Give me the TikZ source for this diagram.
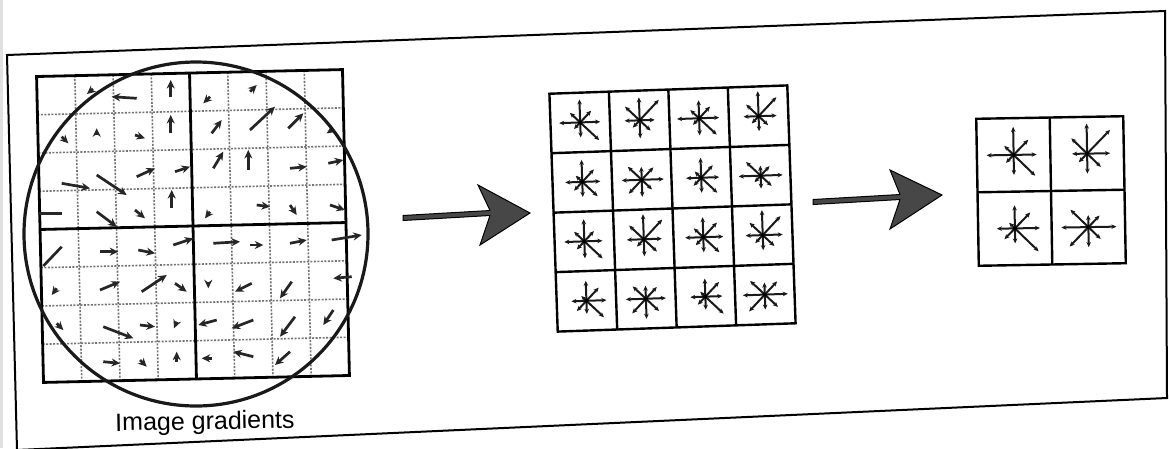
\documentclass[tikz,border=0pt]{standalone}
\usepackage{fontspec}
\setmainfont{Liberation Sans}
\usetikzlibrary{arrows.meta}
\tikzset{
  thingrid/.style={draw=black!55, line width=1.6pt, dash pattern=on 2pt off 1.5pt},
  thickgrid/.style={draw=black, line width=2.8pt},
  garrow/.style={draw=black!85, line width=2.7pt, -{Stealth[length=8.5pt,width=8pt]}},
  gline/.style={draw=black!85, line width=2.7pt},
  sarrow/.style={draw=black!90, line width=2pt, -{Stealth[length=5pt,width=4.5pt]}},
  cellgrid/.style={draw=black, line width=2.4pt},
  bigarrow/.style={fill=black!72, draw=black, line width=1pt, line join=miter},
  pageframe/.style={draw=black, line width=2pt},
  ringline/.style={draw=black!90, line width=3.2pt},
}
\newcommand\hogstar[3]{%
  \foreach \L [count=\i from 0] in {#3} {\draw[sarrow] (#1,#2) -- ++({-45*\i}:\L);}
  \fill[black] (#1,#2) circle (2);
}
\begin{document}
\begin{tikzpicture}[x=1pt,y=-1pt]
\useasboundingbox (0,0) rectangle (1169,448);
\fill[white] (0,0) rectangle (1169,448);
\fill[black!12] (0,0) rectangle (3,448);

% page frame
\draw[pageframe] (7,55) -- (1165,11) -- (1167,398) -- (17,450) -- cycle;

% ---------- left grid (image gradients) ----------
\begin{scope}[rotate around={1.3:(193,226)}]
  \foreach \k in {1,2,3,5,6,7} {
    \draw[thingrid] ({40+38.25*\k},73) -- ({40+38.25*\k},379);
    \draw[thingrid] (40,{73+38.25*\k}) -- (346,{73+38.25*\k});
  }
  \draw[thickgrid] (193,73) -- (193,379);
  \draw[thickgrid] (40,226) -- (346,226);
  \draw[thickgrid] (40,73) rectangle (346,379);
\end{scope}

% gradient arrows
\foreach \a/\b/\c/\d in {
  93/89/87/94, 136.7/98.3/111.7/96.7, 170.7/96.7/170.7/80, 210/96.7/203.3/103.3, 250/91.7/256.7/85,
  61.7/136.7/68.3/143.3, 96.7/135/96.7/128.3, 135/135/145/138.3, 170.7/133.3/170.7/115,
  211.7/133.3/221.7/120, 250/130/275/106.7, 288.3/128.3/303.3/113.3, 331.7/130/326.7/133.3,
  61.7/183.3/90/188.3, 96.7/175/126.7/195, 136.7/176.7/155/168.3, 175/171.7/190/166.7,
  213.3/168.3/223.3/151.7, 248.3/170/248.3/150, 290/168.3/306.7/166.7, 328.3/163.3/343.3/160,
  96.7/211.7/116.7/226.7, 135/210/145/218.3, 171.7/208.3/171.7/190, 210/211.7/205/218.3,
  256.7/205/270/206.7, 290/205/296.7/215, 330/205/345/210,
  100/251.7/118.3/251.7, 138.3/250/155/253.3, 173.3/245/193.3/238.3, 213.3/243.3/240/241.7,
  250/245/263.3/245, 290/243.3/306.7/240, 331.7/240/361.7/235,
  56.7/288.3/51.7/295, 100/290/120/281.7, 141.7/291.7/166.7/275, 175/283.3/186.7/291.7,
  208.3/281.7/208.3/288.3, 251.7/283.3/235/291.7, 291.7/281.7/280/298.3, 351.7/276.7/333.3/278.3,
  56.7/323.3/63.3/330, 103.3/326.7/133.3/338.3, 140/325/155/326.7, 176.7/321.7/174/328.3,
  216.7/320/198.3/325, 253.3/320/231.7/328.3, 295/316.7/280/336.7, 333.3/310/323.3/325,
  103.3/361.7/120/363.3, 140/360/146.7/366.7, 176.7/361.7/176.7/351.7, 211.7/358.3/201.7/358.3,
  253.3/356.7/233.3/351.7, 290/351.7/275/365}
  {\draw[garrow] (\a,\b) -- (\c,\d);}
\draw[gline] (38.3,213.3) -- (61.7,213.3);
\draw[gline] (61.7,246.7) -- (43.3,266);

% circle
\draw[ringline] (196,234) circle (172);

\node[font=\fontsize{25}{30}\selectfont, rotate=1, inner sep=0pt] (lbl) at (205,423) {Image gradients};

% ---------- big arrow 1 ----------
\coordinate (a1s) at (403,218);
\coordinate (a1t) at (530,213);
\draw[bigarrow] (403,215.5) -- (490,210.5) -- (478,185) -- (a1t) -- (480,245) -- (490,215.5) -- (403,220.5) -- cycle;

% ---------- middle grid 4x4 ----------
\begin{scope}[rotate around={2:(672.5,208.5)}]
  \foreach \k in {1,2,3} {
    \draw[cellgrid] ({553.5+59.5*\k},89.5) -- ({553.5+59.5*\k},327.5);
    \draw[cellgrid] (553.5,{89.5+59.5*\k}) -- (791.5,{89.5+59.5*\k});
  }
  \draw[cellgrid] (553.5,89.5) rectangle (791.5,327.5);
  \hogstar{583.25}{119.25}{20,16,23,14,21,9,15,26}
  \hogstar{642.75}{119.25}{15,28,23,20,15,10,18,15}
  \hogstar{702.25}{119.25}{20,16,18,12,22,9,17,24}
  \hogstar{761.75}{119.25}{18,26,25,17,15,10,15,13}
  \hogstar{583.25}{178.75}{18,17,22,9,17,12,15,21}
  \hogstar{642.75}{178.75}{22,17,13,19,20,19,17,14}
  \hogstar{702.25}{178.75}{18,17,20,9,15,11,15,22}
  \hogstar{761.75}{178.75}{22,13,10,20,22,9,13,15}
  \hogstar{583.25}{238.25}{18,14,22,14,20,11,17,25}
  \hogstar{642.75}{238.25}{18,27,25,20,17,10,17,18}
  \hogstar{702.25}{238.25}{20,20,20,13,18,11,15,22}
  \hogstar{761.75}{238.25}{20,26,25,18,17,11,15,16}
  \hogstar{583.25}{297.75}{20,18,20,7,15,14,13,24}
  \hogstar{642.75}{297.75}{20,16,13,18,20,20,20,18}
  \hogstar{702.25}{297.75}{17,20,18,7,15,11,13,25}
  \hogstar{761.75}{297.75}{23,18,12,20,22,23,15,18}
\end{scope}

% ---------- big arrow 2 ----------
\coordinate (a2t) at (942,195);
\draw[bigarrow] (813,199.5) -- (900,194.5) -- (890,170) -- (a2t) -- (890,229) -- (900,199.5) -- (813,204.5) -- cycle;

% ---------- right grid 2x2 ----------
\begin{scope}[rotate around={1:(1051,191)}]
  \draw[cellgrid] (1051,117.5) -- (1051,264.5);
  \draw[cellgrid] (977.5,191) -- (1124.5,191);
  \draw[cellgrid] (977.5,117.5) rectangle (1124.5,264.5);
  \hogstar{1014.25}{154.25}{23,21,28,13,27,11,20,30}
  \hogstar{1087.75}{154.25}{23,33,30,22,15,12,20,19}
  \hogstar{1014.25}{227.75}{25,22,23,8,18,15,15,33}
  \hogstar{1087.75}{227.75}{28,16,12,25,27,27,20,17}
\end{scope}
\end{tikzpicture}
\end{document}
